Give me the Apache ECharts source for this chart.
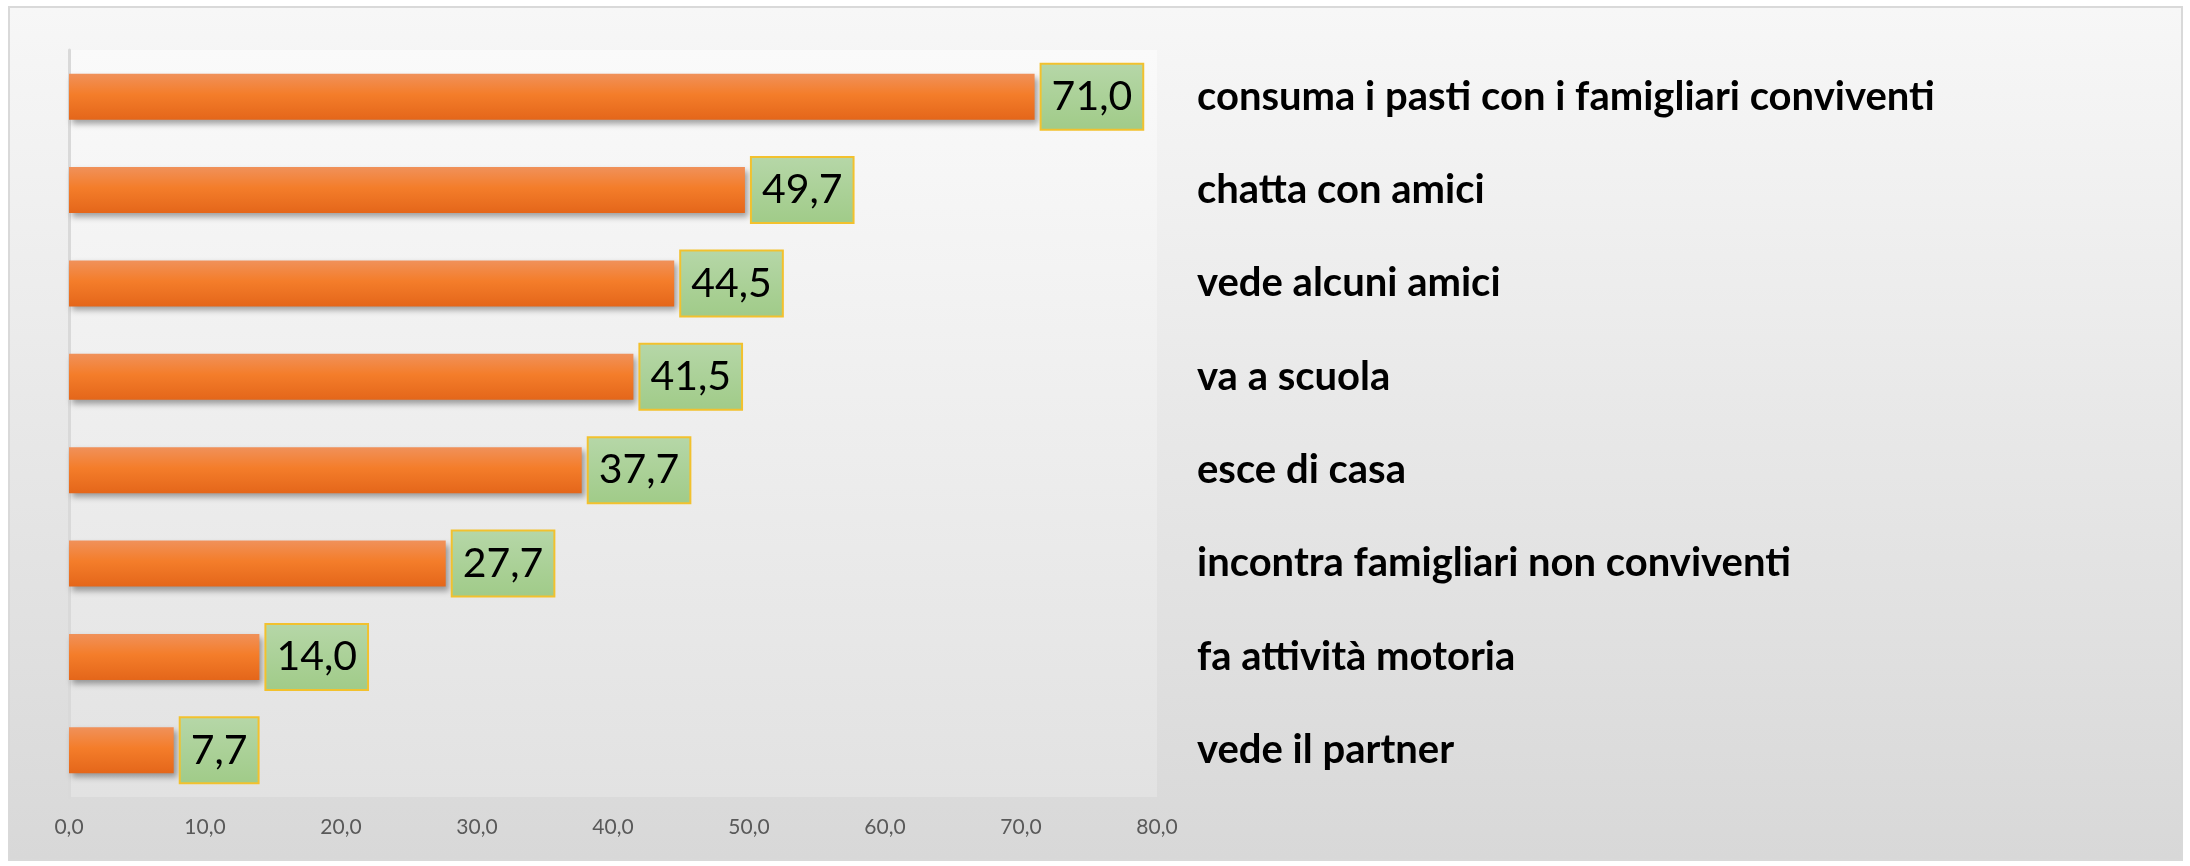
<!DOCTYPE html>
<html>
<head>
<meta charset="utf-8">
<script src="https://cdn.jsdelivr.net/npm/echarts@6/dist/echarts.min.js"></script>
<style>
  html, body { margin: 0; padding: 0; background: #ffffff; }
  #frame {
    position: absolute; left: 8px; top: 6px; width: 2175px; height: 855px;
    box-sizing: border-box; border: 2px solid #d9d9d9;
    background: linear-gradient(to bottom, #f7f7f7, #d8d8d8);
  }
  #chart { position: absolute; left: 0; top: 0; width: 2190px; height: 866px; }
</style>
</head>
<body>
<div id="frame"></div>
<div id="chart"></div>
<script>
// dati (dall'alto verso il basso)
const categories = [
  'consuma i pasti con i famigliari conviventi',
  'chatta con amici',
  'vede alcuni amici',
  'va a scuola',
  'esce di casa',
  'incontra famigliari non conviventi',
  'fa attività motoria',
  'vede il partner'
]
const values = [71.0, 49.7, 44.5, 41.5, 37.7, 27.7, 14.0, 7.7]
const xTicks = [0, 10, 20, 30, 40, 50, 60, 70, 80]

const fmt = v => Number(v).toFixed(1).replace('.', ',')

const myChart = echarts.init(document.getElementById('chart'))
var option
option = {
  backgroundColor: 'transparent',
  animation: false,
  grid: {
    left: 69, top: 50, width: 1088, height: 747,
    show: true,
    borderWidth: 0,
    backgroundColor: new echarts.graphic.LinearGradient(0, 0, 0, 1, [
      { offset: 0, color: '#fafafa' },
      { offset: 1, color: '#e2e2e2' }
    ])
  },
  xAxis: {
    type: 'value',
    min: xTicks[0],
    max: xTicks[xTicks.length - 1],
    interval: 10,
    splitLine: { show: false },
    axisLine: { show: false },
    axisTick: { show: false },
    axisLabel: {
      formatter: fmt,
      color: '#595959',
      fontSize: 21,
      fontFamily: 'Lato',
      margin: 20
    }
  },
  yAxis: [
    {
      type: 'category',
      data: categories,
      inverse: true,
      offset: 2,
      axisLine: { show: true, lineStyle: { color: '#d9d9d9', width: 3 } },
      axisTick: { show: false },
      axisLabel: { show: false }
    },
    {
      type: 'category',
      data: categories,
      inverse: true,
      position: 'right',
      axisLine: { show: false },
      axisTick: { show: false },
      axisLabel: {
        margin: 40,
        color: '#000000',
        fontSize: 40,
        fontWeight: 'bold',
        fontFamily: 'Lato'
      }
    }
  ],
  series: [
    {
      type: 'bar',
      yAxisIndex: 0,
      data: values,
      barWidth: 46,
      itemStyle: {
        color: new echarts.graphic.LinearGradient(0, 0, 0, 1, [
          { offset: 0, color: '#f0915a' },
          { offset: 0.45, color: '#f47d2a' },
          { offset: 1, color: '#e4661a' }
        ]),
        shadowColor: 'rgba(0,0,0,0.35)',
        shadowBlur: 6,
        shadowOffsetX: 3,
        shadowOffsetY: 4
      },
      label: {
        show: true,
        position: 'right',
        distance: 7,
        formatter: p => fmt(p.value),
        color: '#000000',
        fontSize: 41,
        fontFamily: 'Lato',
        padding: [12, 10, 11, 10],
        backgroundColor: new echarts.graphic.LinearGradient(0, 0, 0, 1, [
          { offset: 0, color: '#b6d7a8' },
          { offset: 1, color: '#a0cb88' }
        ]),
        borderColor: '#f2c12e',
        borderWidth: 2
      }
    }
  ]
}

option && myChart.setOption(option)
</script>
</body>
</html>
